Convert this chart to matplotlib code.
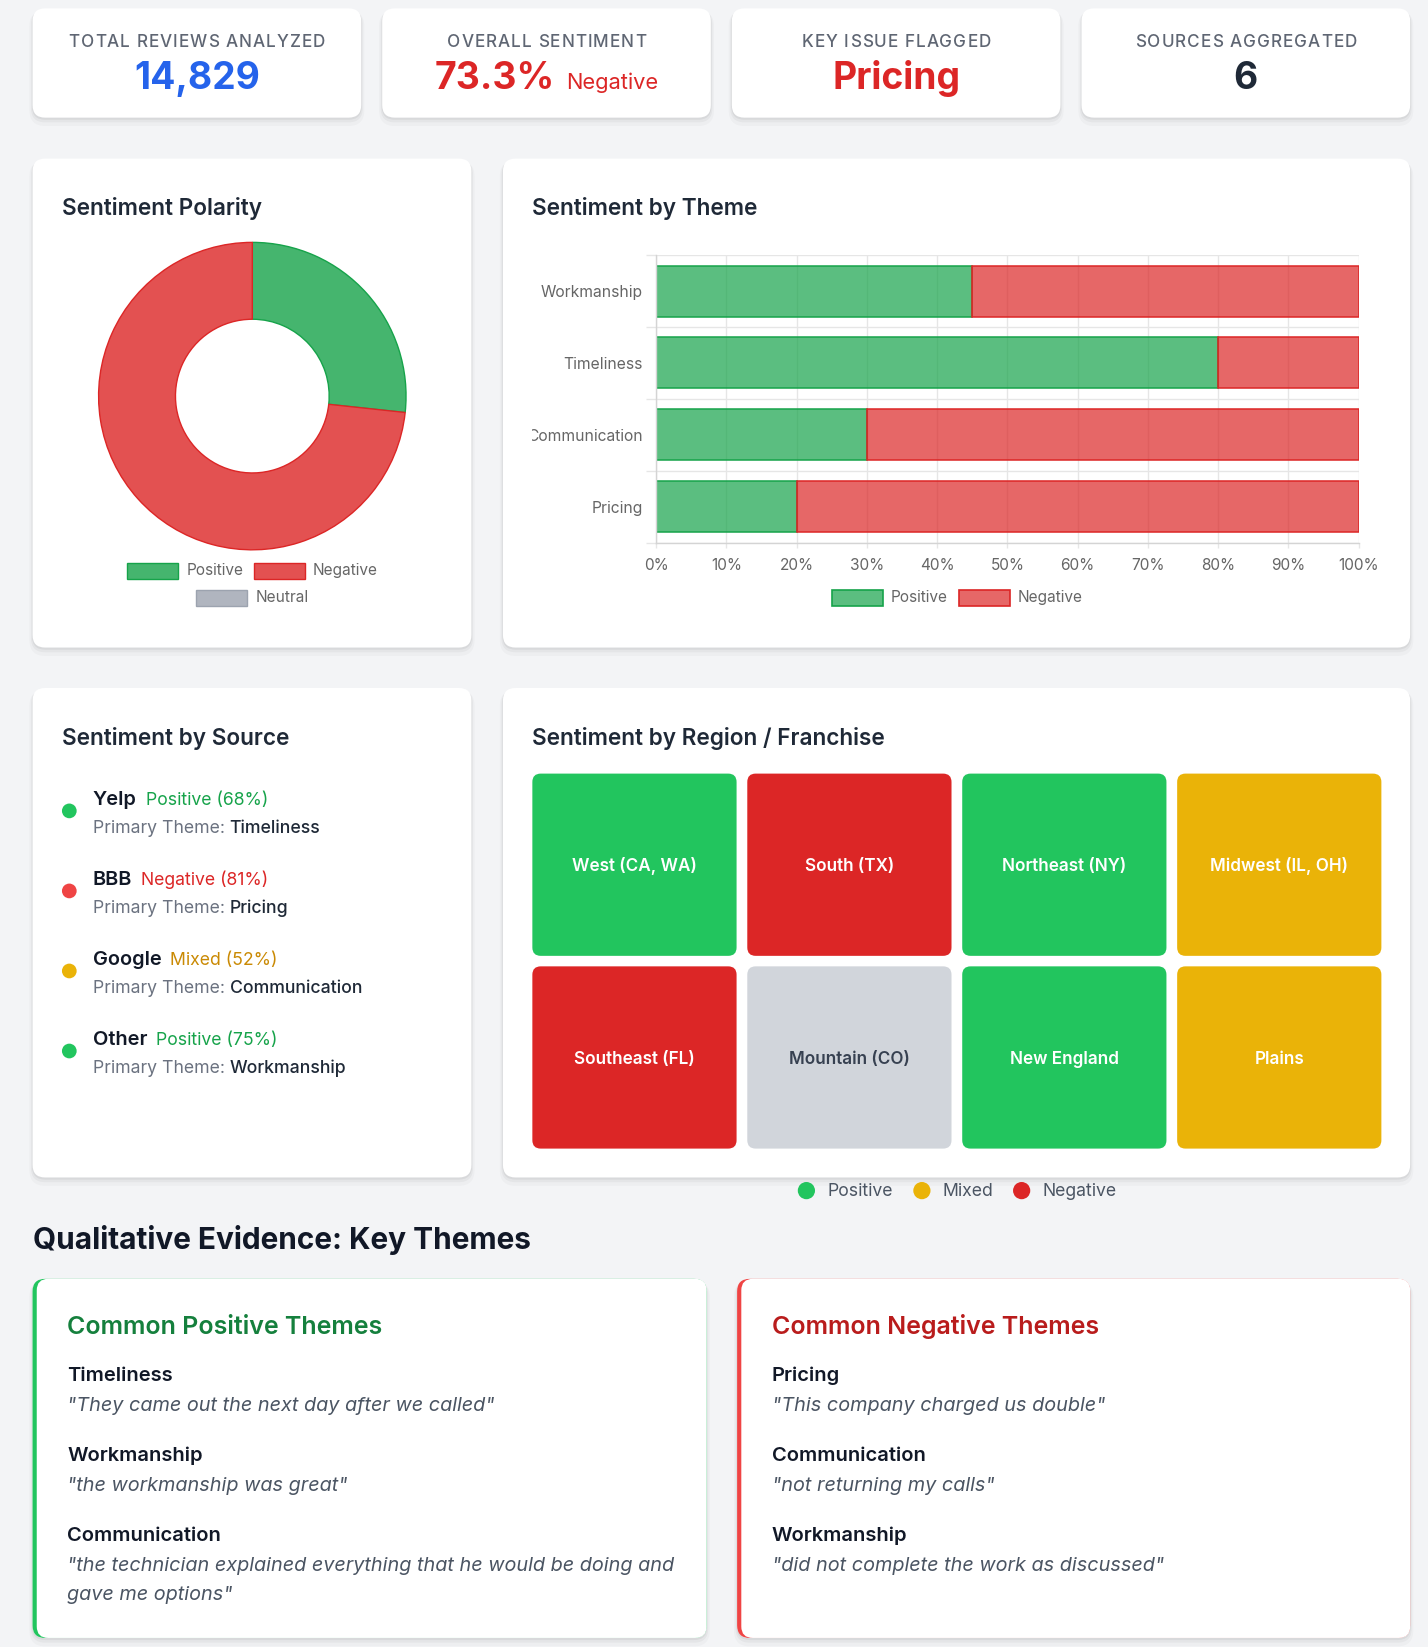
import matplotlib
matplotlib.use("Agg")
import matplotlib.pyplot as plt
from matplotlib.patches import FancyBboxPatch, Rectangle, Circle
from matplotlib.transforms import Bbox, TransformedBbox

plt.rcParams['font.family'] = ['Inter', 'DejaVu Sans']

# ---------------- data ----------------
kpi_labels = ["TOTAL REVIEWS ANALYZED", "OVERALL SENTIMENT", "KEY ISSUE FLAGGED", "SOURCES AGGREGATED"]
kpi_values = ["14,829", "73.3%", "Pricing", "6"]
kpi_suffixes = ["", "Negative", "", ""]
kpi_colors = ["#2563eb", "#dc2626", "#dc2626", "#1f2937"]

polarity_labels = ["Positive", "Negative", "Neutral"]
polarity_values = [26.7, 73.3, 0.0]

themes = ["Workmanship", "Timeliness", "Communication", "Pricing"]
theme_positive = [45, 80, 30, 20]
theme_negative = [55, 20, 70, 80]
pct_ticks = [0, 10, 20, 30, 40, 50, 60, 70, 80, 90, 100]

sources = ["Yelp", "BBB", "Google", "Other"]
source_status = ["Positive", "Negative", "Mixed", "Positive"]
source_pct = [68, 81, 52, 75]
source_theme = ["Timeliness", "Pricing", "Communication", "Workmanship"]

regions = ["West (CA, WA)", "South (TX)", "Northeast (NY)", "Midwest (IL, OH)",
           "Southeast (FL)", "Mountain (CO)", "New England", "Plains"]
region_status = ["Positive", "Negative", "Positive", "Mixed",
                 "Negative", "Neutral", "Positive", "Mixed"]
region_legend = ["Positive", "Mixed", "Negative"]

pos_themes = ["Timeliness", "Workmanship", "Communication"]
pos_quotes = ['"They came out the next day after we called"',
              '"the workmanship was great"',
              '"the technician explained everything that he would be doing and\ngave me options"']
neg_themes = ["Pricing", "Communication", "Workmanship"]
neg_quotes = ['"This company charged us double"',
              '"not returning my calls"',
              '"did not complete the work as discussed"']

# ---------------- styles ----------------
donut_fill = {"Positive": "#45b56e", "Negative": "#e35151", "Neutral": "#b0b5bf"}
donut_edge = {"Positive": "#16a34a", "Negative": "#dc2626", "Neutral": "#9ca3af"}
bar_fill = {"Positive": (22/255, 163/255, 74/255, 0.7), "Negative": (220/255, 38/255, 38/255, 0.7)}
bar_edge = {"Positive": "#16a34a", "Negative": "#dc2626"}
dot_col = {"Positive": "#22c55e", "Negative": "#ef4444", "Mixed": "#eab308"}
status_txt = {"Positive": "#16a34a", "Negative": "#dc2626", "Mixed": "#ca8a04"}
tile_col = {"Positive": "#22c55e", "Negative": "#dc2626", "Mixed": "#eab308", "Neutral": "#d1d5db"}
tile_txt = {"Positive": "white", "Negative": "white", "Mixed": "white", "Neutral": "#374151"}
leg_dot = {"Positive": "#22c55e", "Mixed": "#eab308", "Negative": "#dc2626"}

W, H = 1360, 1568
S = 1428 / 1360


def pt(px):
    return px * S * 0.72


fig = plt.figure(figsize=(14.28, 16.47), dpi=100)
fig.patch.set_facecolor('#f3f4f6')
bg = fig.add_axes([0, 0, 1, 1])
bg.set_xlim(0, W)
bg.set_ylim(H, 0)
bg.axis('off')
renderer = fig.canvas.get_renderer()


def fx(x):
    return x / W


def fy(y):
    return 1 - y / H


def rbox(x0, y0, x1, y1, r, fc, z=2, **kw):
    p = FancyBboxPatch((x0, y0), x1 - x0, y1 - y0,
                       boxstyle=f"round,pad=0,rounding_size={r}",
                       fc=fc, ec='none', zorder=z, **kw)
    bg.add_patch(p)
    return p


def card(x0, y0, x1, y1, r=12):
    for off, grow, a in [(5, 3, 0.022), (3, 1.5, 0.035), (1.5, 0.5, 0.05)]:
        rbox(x0 - grow, y0 - grow + off, x1 + grow, y1 + grow + off, r + grow, 'black', z=1, alpha=a)
    rbox(x0, y0, x1, y1, r, 'white', z=2)


def text_w(t):
    bb = t.get_window_extent(renderer)
    return bb.width / fig.bbox.width * W


def str_w(s, **kw):
    t = bg.text(0, 0, s, **kw)
    w = text_w(t)
    t.remove()
    return w


def tracked(cx, y, s, track, **kw):
    """Centered text with letter spacing (track in px)."""
    bar_w = str_w("|", **kw)
    adv = [str_w(s[:i] + "|", **kw) - bar_w for i in range(len(s) + 1)]
    total = adv[-1] + track * (len(s) - 1)
    x = cx - total / 2
    for i, ch in enumerate(s):
        if ch != " ":
            bg.text(x + adv[i] + i * track, y, ch, ha='left', va='baseline', **kw)


def title(x, y, s):
    bg.text(x, y, s, fontsize=pt(21.5), weight='semibold', color='#1f2937', va='baseline', zorder=5)


# ---------------- KPI cards ----------------
for i, (lab, val, suf, col) in enumerate(zip(kpi_labels, kpi_values, kpi_suffixes, kpi_colors)):
    x0 = 31 + i * 333
    x1 = x0 + 313
    card(x0, 8, x1, 112)
    cx = (x0 + x1) / 2
    tracked(cx, 44.5, lab, 1.0, fontsize=pt(16.3), weight='medium', color='#5f6673', zorder=5)
    if suf:
        t1 = bg.text(0, 85, val, ha='left', va='baseline', fontsize=pt(35.5), weight='bold', color=col, zorder=5)
        t2 = bg.text(0, 85, suf, ha='left', va='baseline', fontsize=pt(20.8), color=col, zorder=5)
        w1, w2, gap = text_w(t1), text_w(t2), 11
        start = cx - (w1 + gap + w2) / 2
        t1.set_x(start)
        t2.set_x(start + w1 + gap)
    else:
        bg.text(cx, 85, val, ha='center', va='baseline', fontsize=pt(35.5), weight='bold', color=col, zorder=5)

# ---------------- Row 2 ----------------
card(31, 151, 449, 616.5)
card(479, 151, 1343, 616.5)
title(59, 204.8, "Sentiment Polarity")
title(507, 204.8, "Sentiment by Theme")

# Donut
cxd, cyd, R = 240.3, 377.1, 146.4
M = 4
axd = fig.add_axes([fx(cxd - R - M), fy(cyd + R + M), 2 * (R + M) / W, 2 * (R + M) / H])
axd.set_facecolor('none')
pairs = [(l, v) for l, v in zip(polarity_labels, polarity_values) if v > 0]
wedges, _ = axd.pie([v for _, v in pairs], colors=[donut_fill[l] for l, _ in pairs],
                    startangle=90, counterclock=False, radius=1,
                    wedgeprops=dict(width=0.5, linewidth=1))
for w, (l, _) in zip(wedges, pairs):
    w.set_edgecolor(donut_edge[l])
lim = (R + M) / R
axd.set_xlim(-lim, lim)
axd.set_ylim(-lim, lim)
axd.axis('off')

poly_leg_pos = [(121.3, 543.3), (242.2, 543.3), (187.0, 569.3)]
for lab, (lx, ly) in zip(polarity_labels, poly_leg_pos):
    bg.add_patch(Rectangle((lx, ly - 7.5), 48.5, 15, fc=donut_fill[lab], ec=donut_edge[lab], lw=1, zorder=5))
    bg.text(lx + 56, ly, lab, va='center', ha='left', fontsize=pt(14.7), color='#666666', zorder=5)

# Stacked bar
bx0, bx1, by0, by1 = 625, 1294, 242.9, 516.5
axb = fig.add_axes([fx(bx0), fy(by1), (bx1 - bx0) / W, (by1 - by0) / H])
axb.set_facecolor('none')
ypos = list(range(len(themes)))
axb.barh(ypos, theme_positive, height=0.71, color=bar_fill["Positive"], edgecolor=bar_edge["Positive"], linewidth=1.1)
axb.barh(ypos, theme_negative, left=theme_positive, height=0.71, color=bar_fill["Negative"], edgecolor=bar_edge["Negative"], linewidth=1.1)
axb.set_xlim(0, 100)
axb.set_ylim(len(themes) - 0.5, -0.5)
axb.set_xticks(pct_ticks)
axb.set_xticklabels([f"{v}%" for v in pct_ticks])
axb.set_yticks(ypos)
axb.set_yticklabels(themes)
axb.set_yticks([i - 0.5 for i in range(len(themes) + 1)], minor=True)
axb.set_xticks([], minor=True)
axb.grid(axis='x', which='major', color='#e6e6e6', lw=1)
axb.grid(axis='y', which='minor', color='#e6e6e6', lw=1)
axb.set_axisbelow(True)
axb.tick_params(axis='y', which='major', length=0, pad=pt(13), labelsize=pt(14.9), labelcolor='#666666')
axb.tick_params(axis='y', which='minor', length=pt(10), width=1, color='#e6e6e6')
axb.tick_params(axis='x', which='major', length=pt(5), width=1, color='#e6e6e6', pad=pt(9.5),
                labelsize=pt(14.7), labelcolor='#666666')
for sp in ['top', 'right']:
    axb.spines[sp].set_visible(False)
for sp in ['left', 'bottom']:
    axb.spines[sp].set_color('#d4d4d4')
    axb.spines[sp].set_linewidth(1)
clipbb = TransformedBbox(Bbox.from_extents(fx(507), 0, fx(1343), 1), fig.transFigure)
for t in axb.yaxis.get_major_ticks():
    t.label1.set_clip_box(clipbb)
    t.label1.set_clip_on(True)

bar_leg_pos = [(792, 569.2), (913, 569.2)]
for lab, (lx, ly) in zip(["Positive", "Negative"], bar_leg_pos):
    bg.add_patch(Rectangle((lx, ly - 7.5), 48.5, 15, fc=bar_fill[lab], ec=bar_edge[lab], lw=1.2, zorder=5))
    bg.text(lx + 56, ly, lab, va='center', ha='left', fontsize=pt(14.7), color='#666666', zorder=5)

# ---------------- Row 3 ----------------
card(31, 655, 449, 1121)
card(479, 655, 1343, 1121)
title(59, 709.5, "Sentiment by Source")
title(507, 709.5, "Sentiment by Region / Franchise")

for k, (src, st, pc, th) in enumerate(zip(sources, source_status, source_pct, source_theme)):
    yb = 766.7 + k * 76.2
    bg.add_patch(Circle((66, yb + 5.3), 7, fc=dot_col[st], ec='none', zorder=5))
    t = bg.text(88.3, yb, src, fontsize=pt(19), weight='semibold', color='#111827', va='baseline', zorder=5)
    bg.text(88.3 + text_w(t) + 8.5, yb, f"{st} ({pc}%)", fontsize=pt(16.8), color=status_txt[st], va='baseline', zorder=5)
    t2 = bg.text(88.3, yb + 26.3, "Primary Theme: ", fontsize=pt(16.8), color='#6b7280', va='baseline', zorder=5)
    bg.text(88.3 + text_w(t2), yb + 26.3, th, fontsize=pt(16.8), weight='medium', color='#1f2937', va='baseline', zorder=5)

tx0, ty0, tw, th_, gx, gy = 507, 736.5, 194.5, 173.5, 10.2, 10
for k, (name, st) in enumerate(zip(regions, region_status)):
    r, c = divmod(k, 4)
    x0 = tx0 + c * (tw + gx)
    y0 = ty0 + r * (th_ + gy)
    rbox(x0, y0, x0 + tw, y0 + th_, 8, tile_col[st], z=4)
    bg.text(x0 + tw / 2, y0 + th_ / 2 + 6, name, ha='center', va='baseline', fontsize=pt(16.3),
            weight='semibold', color=tile_txt[st], zorder=6)

leg_x = [768, 878, 973]
for lab, lx in zip(region_legend, leg_x):
    bg.add_patch(Circle((lx, 1133.5), 8.2, fc=leg_dot[lab], ec='none', zorder=5))
    bg.text(lx + 20, 1134, lab, va='center', ha='left', fontsize=pt(16.8), color='#4b5563', zorder=5)

# ---------------- Qualitative evidence ----------------
bg.text(31, 1188.9, "Qualitative Evidence: Key Themes", fontsize=pt(28.4), weight='bold', color='#111827',
        va='baseline', zorder=5)

ev_cards = [(31, 673, "Common Positive Themes", "#15803d", "#22c55e", pos_themes, pos_quotes),
            (702, 1343, "Common Negative Themes", "#b91c1c", "#ef4444", neg_themes, neg_quotes)]
for x0, x1, ttl, tcol, bcol, ths, qs in ev_cards:
    card(x0, 1217.5, x1, 1559.4)
    rbox(x0, 1217.5, x1, 1559.4, 12, bcol, z=3)
    rbox(x0 + 4, 1217.5, x1, 1559.4, 11, 'white', z=3.5)
    tx = x0 + 33
    bg.text(tx, 1269.8, ttl, fontsize=pt(23.8), weight='semibold', color=tcol, va='baseline', zorder=5)
    for j, (thm, q) in enumerate(zip(ths, qs)):
        yb = 1314.3 + j * 76.2
        bg.text(tx, yb, thm, fontsize=pt(19.2), weight='semibold', color='#111827', va='baseline', zorder=5)
        for li, line in enumerate(q.split("\n")):
            bg.text(tx, yb + 28.7 + li * 28, line, fontsize=pt(18.9), style='italic', color='#4b5563',
                    va='baseline', zorder=5)

fig.savefig("out.png", dpi=100, facecolor=fig.get_facecolor())
